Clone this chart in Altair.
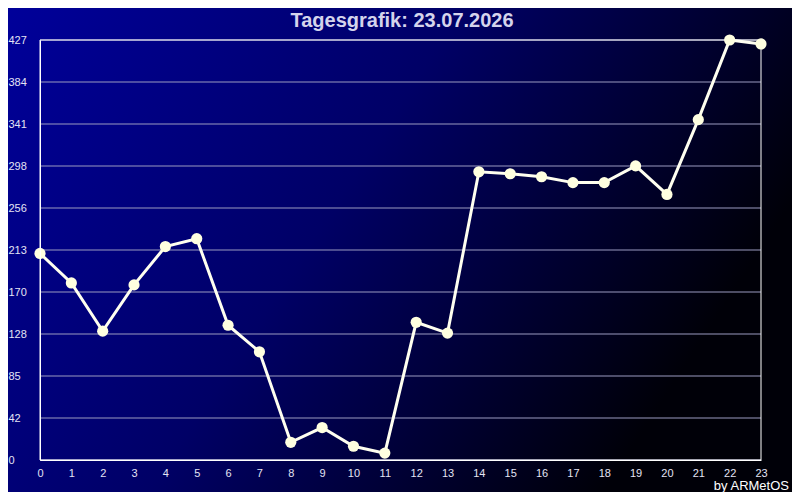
import altair as alt
import pandas as pd

hours = list(range(24))
values = [210, 180, 131, 178, 217, 225, 137, 110, 18, 33, 14, 7,
          140, 129, 293, 291, 288, 282, 282, 299, 270, 346, 427, 423]
y_tick_values = [0, 42.7, 85.4, 128.1, 170.8, 213.5, 256.2, 298.9, 341.6, 384.3, 427]
x_tick_values = list(range(24))
title_text = "Tagesgrafik: 23.07.2026"
credit_text = "by ARMetOS"

df = pd.DataFrame({"hour": hours, "value": values})
grid_df = pd.DataFrame({"value": y_tick_values})

W, H = 721, 420
PAD = {"left": 32, "top": 32, "right": 31, "bottom": 32}

grad = alt.LinearGradient(
    gradient="linear",
    stops=[alt.GradientStop(color="#00009A", offset=0),
           alt.GradientStop(color="#000066", offset=0.5),
           alt.GradientStop(color="#000008", offset=1)],
    x1=0, y1=0, x2=1, y2=0.4,
)

bg = alt.Chart(alt.Data(values=[{"a": 1}])).mark_rect(color=grad).encode(
    x=alt.value(-PAD["left"]), x2=alt.value(W + PAD["right"]),
    y=alt.value(-PAD["top"]), y2=alt.value(H + PAD["bottom"]),
)

xs = alt.X("hour:Q", scale=alt.Scale(domain=[0, 23], nice=False, zero=False),
           axis=alt.Axis(values=x_tick_values, format="d", title=None, grid=False,
                         ticks=False, tickSize=0, domain=True, domainColor="#FFFFFF",
                         labelColor="#E4E4F4", labelFontSize=11, labelFont="Liberation Sans",
                         labelPadding=7, labelAngle=0, labelFlush=False, labelOverlap=False,
                         zindex=1))
ys = alt.Y("value:Q", scale=alt.Scale(domain=[0, 427], nice=False),
           axis=alt.Axis(values=y_tick_values, labelExpr="floor(datum.value)", title=None,
                         grid=False, ticks=False, tickSize=0, domain=True,
                         domainColor="#FFFFFF",
                         labelColor="#E4E4F4", labelFontSize=11, labelFont="Liberation Sans",
                         labelAlign="left", labelPadding=32, labelFlush=False,
                         labelOverlap=False, zindex=1))

grid = alt.Chart(grid_df).mark_rule(color="#9A9AC0", strokeWidth=1).encode(
    y=ys, x=alt.value(0), x2=alt.value(W))

frame = alt.Chart(alt.Data(values=[{"a": 1}])).mark_rect(
    filled=False, stroke="#FFFFFF", strokeWidth=1).encode(
    x=alt.value(0), x2=alt.value(W), y=alt.value(0), y2=alt.value(H))

line = alt.Chart(df).mark_line(color="#FFFFF0", strokeWidth=3).encode(x=xs, y=ys)
pts = alt.Chart(df).mark_circle(color="#FFFFE0", opacity=1, size=125).encode(x=xs, y=ys)

title = alt.Chart(alt.Data(values=[{"t": title_text}])).mark_text(
    align="center", baseline="alphabetic", fontSize=20, font="Liberation Sans",
    fontWeight="bold", color="#D4D4EC").encode(
    x=alt.value(W / 2 + 1.5), y=alt.value(-13), text="t:N")

credit = alt.Chart(alt.Data(values=[{"t": credit_text}])).mark_text(
    align="right", baseline="alphabetic", fontSize=13, font="Liberation Sans",
    color="#FFFFFF").encode(
    x=alt.value(749), y=alt.value(450), text="t:N")

chart = alt.layer(bg, grid, frame, line, pts, title, credit).properties(
    width=W, height=H, padding=PAD,
    autosize=alt.AutoSizeParams(type="none"),
    background="#000050",
).configure_view(stroke=None)

chart.save("out.html", embed_options={"renderer": "svg", "actions": False})
